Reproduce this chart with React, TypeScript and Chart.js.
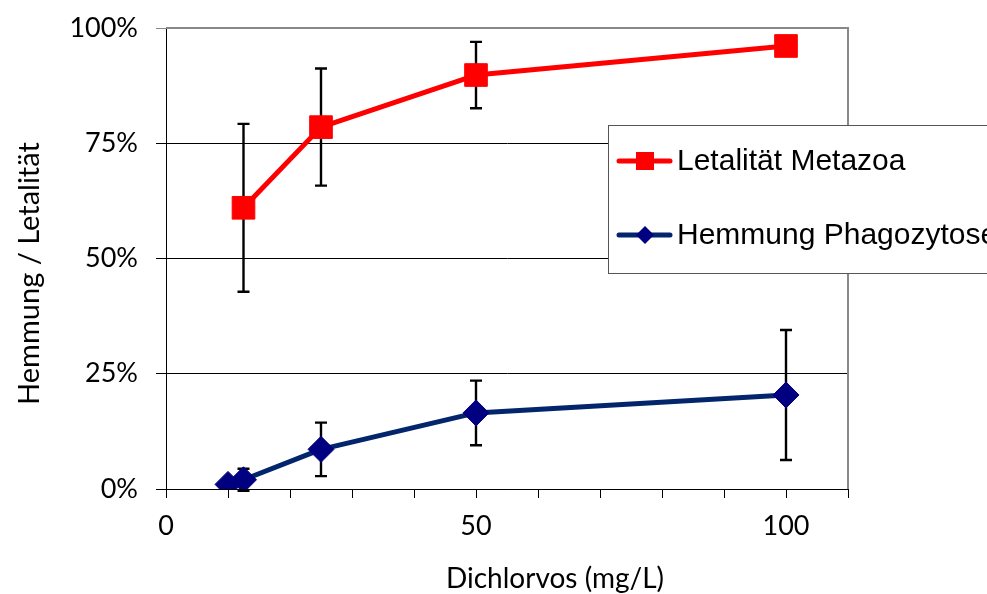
import { useEffect, useRef } from 'react';
import { Chart, registerables } from 'chart.js';

Chart.register(...registerables);

// Dose (mg/L) and mean effect (%) with standard deviation for each series
const metazoaDose = [12.5, 25, 50, 100];
const metazoaLethality = [61, 78.5, 89.8, 96.1];
const metazoaError = [18.2, 12.7, 7.2, 0];

const phagoDose = [10, 12.5, 25, 50, 100];
const phagoInhibition = [1.0, 2.0, 8.6, 16.5, 20.4];
const phagoError = [0, 2.4, 5.8, 7.0, 14.1];

const seriesNames = ['Letalität Metazoa', 'Hemmung Phagozytose'];
const xTitle = 'Dichlorvos (mg/L)';
const yTitle = 'Hemmung / Letalität';
const xLabelledTicks = [0, 50, 100];

const RED = '#ff0000';
const NAVY_LINE = '#03256c';
const NAVY_MARK = '#000080';
const TICK_FONT = 'Lato';
const LEGEND_FONT = '"Liberation Sans", Arial, sans-serif';

// Vertical error bars with caps, drawn beneath the lines and markers
const errorBarsPlugin = {
  id: 'errorBars',
  beforeDatasetsDraw(chart: any, _args: any, opts: any) {
    const { ctx } = chart;
    const x = chart.scales.x;
    const y = chart.scales.y;
    ctx.save();
    ctx.strokeStyle = '#000';
    ctx.lineWidth = 2.4;
    chart.data.datasets.forEach((ds: any, i: number) => {
      const errs: number[] = opts.errors[i] || [];
      ds.data.forEach((p: any, j: number) => {
        const e = errs[j];
        if (!e) return;
        const px = x.getPixelForValue(p.x);
        const top = y.getPixelForValue(p.y + e);
        const bot = y.getPixelForValue(p.y - e);
        ctx.beginPath();
        ctx.moveTo(px, top);
        ctx.lineTo(px, bot);
        ctx.moveTo(px - 6, top);
        ctx.lineTo(px + 6, top);
        ctx.moveTo(px - 6, bot);
        ctx.lineTo(px + 6, bot);
        ctx.stroke();
      });
    });
    ctx.restore();
  },
};

// Grey frame on the top and right of the plot area
const framePlugin = {
  id: 'frame',
  beforeDatasetsDraw(chart: any) {
    const { ctx, chartArea: a } = chart;
    ctx.save();
    ctx.strokeStyle = '#888';
    ctx.lineWidth = 2;
    ctx.beginPath();
    ctx.moveTo(a.left, a.top);
    ctx.lineTo(a.right, a.top);
    ctx.lineTo(a.right, a.bottom);
    ctx.stroke();
    ctx.restore();
  },
};

// Axis titles placed like the spreadsheet layout
const titlesPlugin = {
  id: 'axisTitles',
  afterDraw(chart: any) {
    const { ctx, chartArea: a } = chart;
    ctx.save();
    ctx.fillStyle = '#000';
    ctx.font = `28px ${TICK_FONT}`;
    ctx.textBaseline = 'middle';
    ctx.textAlign = 'left';
    ctx.fillText(xTitle, a.left + 280, 579);
    ctx.font = `29px ${TICK_FONT}`;
    ctx.textAlign = 'center';
    ctx.translate(30, (a.top + a.bottom) / 2 + 15);
    ctx.rotate(-Math.PI / 2);
    ctx.fillText(yTitle, 0, 0);
    ctx.restore();
  },
};

// Boxed legend sitting over the right side of the plot
const boxLegendPlugin = {
  id: 'boxLegend',
  afterDraw(chart: any) {
    const { ctx } = chart;
    const left = 608;
    const top = 125;
    const right = 1000;
    const bottom = 273;
    ctx.save();
    ctx.fillStyle = '#fff';
    ctx.fillRect(left, top, right - left, bottom - top);
    ctx.strokeStyle = '#555';
    ctx.lineWidth = 1;
    ctx.strokeRect(left + 0.5, top + 0.5, right - left, bottom - top);
    const rows = [161, 235];
    chart.data.datasets.forEach((ds: any, i: number) => {
      const cy = rows[i];
      ctx.strokeStyle = ds.borderColor;
      ctx.lineWidth = 5;
      ctx.lineCap = 'round';
      ctx.beginPath();
      ctx.moveTo(619, cy);
      ctx.lineTo(670, cy);
      ctx.stroke();
      ctx.fillStyle = ds.pointBackgroundColor;
      ctx.beginPath();
      if (ds.pointStyle === 'rect') {
        ctx.rect(645 - 9, cy - 9, 18, 18);
      } else {
        ctx.moveTo(645, cy - 9);
        ctx.lineTo(654, cy);
        ctx.lineTo(645, cy + 9);
        ctx.lineTo(636, cy);
        ctx.closePath();
      }
      ctx.fill();
      ctx.fillStyle = '#000';
      ctx.font = `30px ${LEGEND_FONT}`;
      ctx.textAlign = 'left';
      ctx.textBaseline = 'middle';
      ctx.fillText(ds.label, 677, cy + 1);
    });
    ctx.restore();
  },
};

export default function App() {
  const canvasRef = useRef<HTMLCanvasElement | null>(null);

  useEffect(() => {
    const canvas = canvasRef.current;
    if (!canvas) return;
    const chart = new Chart(canvas, {
      type: 'line',
      data: {
        datasets: [
          {
            label: seriesNames[0],
            data: metazoaDose.map((d, i) => ({ x: d, y: metazoaLethality[i] })),
            borderColor: RED,
            backgroundColor: RED,
            borderWidth: 5,
            borderJoinStyle: 'round',
            borderCapStyle: 'round',
            pointStyle: 'rect',
            pointRadius: 16,
            pointBackgroundColor: RED,
            pointBorderColor: RED,
            pointBorderWidth: 1,
            tension: 0,
          },
          {
            label: seriesNames[1],
            data: phagoDose.map((d, i) => ({ x: d, y: phagoInhibition[i] })),
            borderColor: NAVY_LINE,
            backgroundColor: NAVY_MARK,
            borderWidth: 5,
            borderJoinStyle: 'round',
            borderCapStyle: 'round',
            pointStyle: 'rectRot',
            pointRadius: 13,
            pointBackgroundColor: NAVY_MARK,
            pointBorderColor: NAVY_MARK,
            pointBorderWidth: 1,
            tension: 0,
          },
        ],
      } as any,
      options: {
        animation: false,
        responsive: false,
        events: [],
        layout: { padding: { top: 28, right: 139, left: 0, bottom: 0 } },
        plugins: {
          legend: { display: false },
          tooltip: { enabled: false },
          errorBars: { errors: [metazoaError, phagoError] },
        } as any,
        scales: {
          x: {
            type: 'linear',
            min: 0,
            max: 110,
            afterFit: (s: any) => {
              s.height = 105;
              s.paddingLeft = 0;
              s.paddingRight = 0;
            },
            grid: {
              drawOnChartArea: false,
              drawTicks: true,
              tickLength: 9,
              color: '#000',
            },
            border: { display: true, color: '#000', width: 1 },
            ticks: {
              stepSize: 10,
              autoSkip: false,
              maxRotation: 0,
              padding: 12,
              color: '#000',
              font: { family: TICK_FONT, size: 27 },
              callback: (v: any) => (xLabelledTicks.includes(Number(v)) ? String(v) : ''),
            },
          },
          y: {
            type: 'linear',
            min: 0,
            max: 100,
            afterFit: (s: any) => {
              s.width = 166;
              s.paddingTop = 0;
              s.paddingBottom = 0;
            },
            grid: {
              drawTicks: true,
              tickLength: 10,
              color: (c: any) => (c.tick && c.tick.value === 100 ? '#888' : '#000'),
              lineWidth: 1,
            },
            border: { display: true, color: '#000', width: 1 },
            ticks: {
              stepSize: 25,
              padding: 18,
              color: '#000',
              font: { family: TICK_FONT, size: 27 },
              callback: (v: any) => `${v}%`,
            },
          },
        } as any,
      },
      plugins: [framePlugin, errorBarsPlugin, titlesPlugin, boxLegendPlugin],
    });
    return () => chart.destroy();
  }, []);

  return (
    <div style={{ position: 'fixed', left: 0, top: 0, width: 987, height: 594, background: '#fff' }}>
      <canvas ref={canvasRef} width={987} height={594} style={{ display: 'block' }} />
    </div>
  );
}
